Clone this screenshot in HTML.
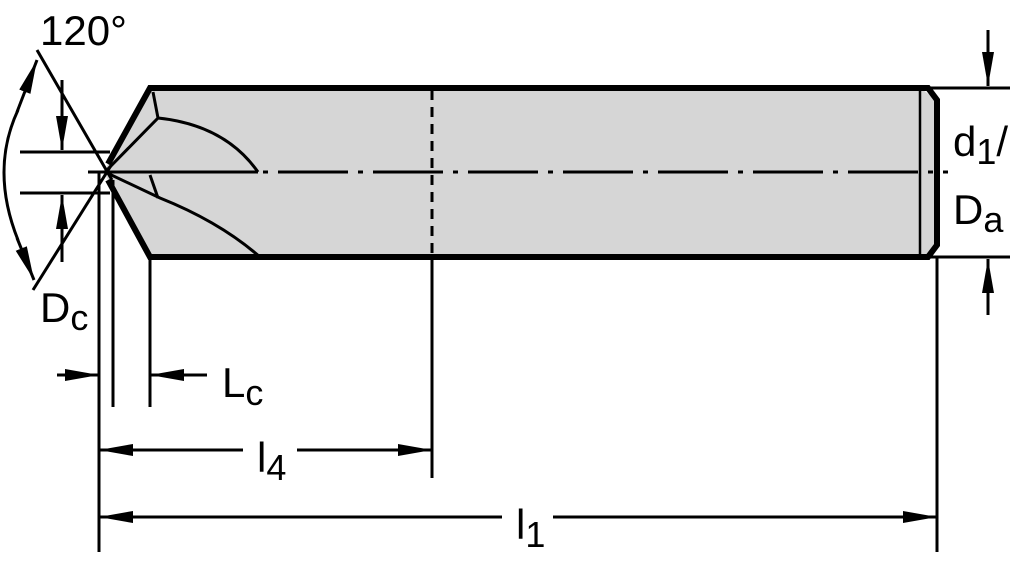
<!DOCTYPE html>
<html><head><meta charset="utf-8"><style>html,body{margin:0;padding:0;background:#fff}svg{display:block}</style></head>
<body>
<svg width="1024" height="561" viewBox="0 0 1024 561" xmlns="http://www.w3.org/2000/svg">
<defs>
<marker id="a" viewBox="0 0 34 12" refX="34" refY="6" markerWidth="34" markerHeight="12" markerUnits="userSpaceOnUse" orient="auto"><path d="M0,0 L34,6 L0,12 Z" fill="#000"/></marker>
</defs>
<path d="M150,88 L920,88 L937,100 L937,245 L928,257 L150,257 L108,180 L104,172 L108,164 Z" fill="#d6d6d6"/>
<path d="M108,164 L150,88 L928,88 L937,100 L937,245 L928,257 L150,257 L108,180" fill="none" stroke="#000" stroke-width="6" stroke-linejoin="miter"/>
<line x1="920" y1="90" x2="920" y2="255" stroke="#000" stroke-width="2.5"/>
<g fill="none" stroke="#000" stroke-width="3">
<path d="M153,92 L158,118 L105,172"/>
<path d="M158,118 Q225,125 258,172"/>
<path d="M105,172 L258,172"/>
<path d="M150,175 L158,198"/>
<path d="M105,172 L160,198 Q220,222 260,257"/>
</g>
<line x1="88" y1="172" x2="948" y2="172" stroke="#000" stroke-width="3" stroke-dasharray="70,10,5,10"/>
<line x1="432" y1="90" x2="432" y2="257" stroke="#000" stroke-width="3" stroke-dasharray="10,7"/>
<g stroke="#000" stroke-width="3" fill="none">
<line x1="432" y1="257" x2="432" y2="478"/>
<line x1="99" y1="172" x2="99" y2="552"/>
<line x1="113" y1="180" x2="113" y2="407"/>
<line x1="150" y1="257" x2="150" y2="407"/>
<line x1="937" y1="257" x2="937" y2="552"/>
<line x1="20" y1="152" x2="110" y2="152"/>
<line x1="20" y1="193" x2="110" y2="193"/>
<line x1="62" y1="80" x2="62" y2="150" marker-end="url(#a)"/>
<line x1="62" y1="262" x2="62" y2="195" marker-end="url(#a)"/>
<line x1="37" y1="50" x2="112" y2="180"/>
<line x1="33" y1="290" x2="112" y2="164"/>
<path d="M18,110 Q-10,170 18,240"/>
<line x1="17" y1="112" x2="37" y2="60" marker-end="url(#a)"/>
<line x1="17" y1="238" x2="34" y2="280" marker-end="url(#a)"/>
<line x1="930" y1="88" x2="1010" y2="88"/>
<line x1="930" y1="257" x2="1010" y2="257"/>
<line x1="988" y1="30" x2="988" y2="86" marker-end="url(#a)"/>
<line x1="988" y1="315" x2="988" y2="259" marker-end="url(#a)"/>
<line x1="57" y1="375" x2="99" y2="375" marker-end="url(#a)"/>
<line x1="207" y1="375" x2="150" y2="375" marker-end="url(#a)"/>
<line x1="243" y1="450" x2="99" y2="450" marker-end="url(#a)"/>
<line x1="297" y1="450" x2="432" y2="450" marker-end="url(#a)"/>
<line x1="502" y1="517" x2="99" y2="517" marker-end="url(#a)"/>
<line x1="553" y1="517" x2="937" y2="517" marker-end="url(#a)"/>
</g>
<g font-family="Liberation Sans, sans-serif" fill="#000">
<text x="40" y="45" font-size="42">120°</text>
<text x="40" y="322" font-size="42">D<tspan font-size="36" dy="8">c</tspan></text>
<text x="222" y="397" font-size="42">L<tspan font-size="36" dy="8">c</tspan></text>
<text x="257" y="472" font-size="42">l<tspan font-size="36" dy="8">4</tspan></text>
<text x="516" y="539" font-size="42">l<tspan font-size="36" dy="8">1</tspan></text>
<text x="953" y="156" font-size="42">d<tspan font-size="36" dy="8">1</tspan><tspan dy="-8">/</tspan></text>
<text x="953" y="224" font-size="42">D<tspan font-size="36" dy="8">a</tspan></text>
</g>
</svg>
</body></html>
